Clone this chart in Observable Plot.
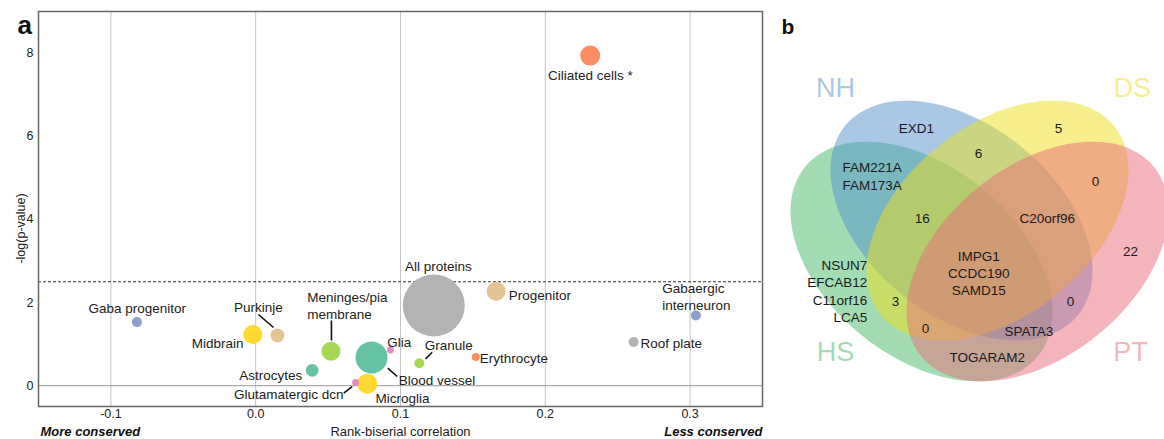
<!DOCTYPE html>
<html><head><meta charset="utf-8">
<script src="https://cdn.jsdelivr.net/npm/d3@7"></script>
<script src="https://cdn.jsdelivr.net/npm/@observablehq/plot@0.6"></script>
<style>
body{margin:0;background:#fff;}
#wrap{display:flex;width:1164px;height:439px;overflow:hidden;}
#wrap svg{display:block;}
</style></head><body><div id="wrap"></div>
<script>
// ---------- Panel a data ----------
const cellTypes = ["Ciliated cells *","Gaba progenitor","Midbrain","Purkinje","Meninges/pia\nmembrane","Astrocytes","Blood vessel","Glia","Glutamatergic dcn","Microglia","All proteins","Progenitor","Granule","Erythrocyte","Roof plate","Gabaergic\ninterneuron"];
const rankBiserial = [0.231, -0.082, -0.002, 0.015, 0.052, 0.039, 0.080, 0.093, 0.069, 0.077, 0.123, 0.166, 0.113, 0.152, 0.261, 0.304];
const negLogP = [7.94, 1.53, 1.23, 1.21, 0.83, 0.37, 0.68, 0.86, 0.08, 0.05, 1.93, 2.27, 0.54, 0.69, 1.05, 1.69];
const nProteins = [100, 25, 90, 49, 90, 40, 256, 12, 12, 100, 961, 90, 25, 16, 25, 25];
const colorGroup = ["B","C","F","G","E","A","A","D","D","F","H","G","E","B","H","C"];
const groups = ["A","B","C","D","E","F","G","H"];
const threshold = 2.5;
const xTicks = [-0.1, 0, 0.1, 0.2, 0.3];
const yTicks = [0, 2, 4, 6, 8];

// label layout (data units) and anchors
const labelX = [0.2312, -0.0818, -0.0084, 0.0019, 0.0356, 0.0321, 0.0988, 0.0908, 0.0606, 0.0827, 0.1262, 0.1748, 0.1168, 0.1548, 0.2657, 0.2807];
const labelY = [7.485, 1.881, 1.039, 1.905, 1.944, 0.270, 0.149, 1.063, -0.187, -0.284, 2.891, 2.194, 0.991, 0.686, 1.046, 2.158];
const labelAnchor = ["middle","middle","end","middle","start","end","start","start","end","start","middle","start","start","start","start","start"];
// leader lines
const leaders = [
  {x1: 0.0019, y1: 1.713, x2: 0.0123, y2: 1.40},
  {x1: 0.0523, y1: 1.568, x2: 0.0523, y2: 1.087},
  {x1: 0.0608, y1: -0.180, x2: 0.0666, y2: -0.019},
  {x1: 0.0912, y1: 0.421, x2: 0.0977, y2: 0.222},
  {x1: 0.1219, y1: 0.806, x2: 0.1173, y2: 0.647}
];

const points = cellTypes.map((c, i) => ({cell: c, x: rankBiserial[i], y: negLogP[i], n: nProteins[i], g: colorGroup[i], lx: labelX[i], ly: labelY[i], anchor: labelAnchor[i]}));

const font = "'Liberation Sans', Arial, Helvetica, sans-serif";

const plotA = Plot.plot({
  width: 770, height: 439,
  marginLeft: 38, marginRight: 8, marginTop: 11, marginBottom: 33,
  style: {fontFamily: font, fontSize: "12.5px", color: "#222", background: "white", overflow: "visible"},
  x: {domain: [-0.15, 0.35], ticks: xTicks, tickFormat: d => d.toFixed(1), tickSize: 0, tickPadding: 3, label: null},
  y: {domain: [-0.5, 9], ticks: yTicks, tickFormat: d => String(d), tickSize: 0, tickPadding: 5, label: null},
  r: {type: "sqrt", domain: [0, 961], range: [0, 31]},
  color: {domain: groups, range: d3.schemeSet2},
  marks: [
    Plot.gridX(xTicks, {stroke: "#c4c4c4", strokeOpacity: 1}),
    Plot.ruleY([0], {stroke: "#999"}),
    Plot.ruleY([threshold], {stroke: "#333", strokeDasharray: "3,2"}),
    Plot.frame({stroke: "#666", strokeWidth: 1.5}),
    Plot.link(leaders, {x1: "x1", y1: "y1", x2: "x2", y2: "y2", stroke: "#111", strokeWidth: 1.6}),
    Plot.dot(points, {x: "x", y: "y", r: "n", fill: "g", stroke: "none"}),
    ...["start","middle","end"].map(a => Plot.text(points.filter(p => p.anchor === a), {x: "lx", y: "ly", text: "cell", textAnchor: a, lineAnchor: "middle", lineHeight: 1.3, fill: "#222", fontSize: 13.5})),
    Plot.text(["-log(p-value)"], {text: d => d, frameAnchor: "left", textAnchor: "middle", lineAnchor: "middle", rotate: -90, dx: -18, dy: 19.5, fontSize: 12.5, fill: "#222"}),
    Plot.text(["Rank-biserial correlation"], {text: d => d, frameAnchor: "bottom", textAnchor: "middle", lineAnchor: "middle", dy: 25, fontSize: 13, fill: "#222"}),
    Plot.text(["More conserved"], {text: d => d, frameAnchor: "bottom-left", textAnchor: "start", lineAnchor: "middle", dx: 2, dy: 25, fontSize: 13, fontWeight: "bold", fontStyle: "italic", fill: "#111"}),
    Plot.text(["Less conserved"], {text: d => d, frameAnchor: "bottom-right", textAnchor: "end", lineAnchor: "middle", dx: 0, dy: 25, fontSize: 13, fontWeight: "bold", fontStyle: "italic", fill: "#111"}),
    Plot.text(["a"], {text: d => d, frameAnchor: "top-left", textAnchor: "start", lineAnchor: "middle", dx: -21, dy: 14, fontSize: 26, fontWeight: "bold", fill: "#111"})
  ]
});

// ---------- Panel b data (Venn) ----------
const vennSets = ["HS", "NH", "DS", "PT"];
const vennCx = [-0.58, -0.18, 0.18, 0.58];
const vennCy = [-0.21, 0.20, 0.20, -0.21];
const vennA = [1.5, 1.5, 1.5, 1.5];
const vennB = [0.95, 0.95, 0.95, 0.95];
const vennAngle = [-39, -39, 39, 39];
const vennColors = ["#47b967", "#5391cd", "#eddf19", "#e96b7b"];
const vennSetLabelX = [-1.44, -1.44, 1.527, 1.51];
const vennSetLabelY = [-1.117, 1.52, 1.52, -1.117];

const regionText = ["EXD1","5","6","FAM221A\nFAM173A","0","16","C20orf96","22","IMPG1\nCCDC190\nSAMD15","NSUN7\nEFCAB12\nC11orf16\nLCA5","3","0","0","SPATA3","TOGARAM2"];
const regionX = [-0.63, 0.79, -0.01, -1.073, 1.16, -0.573, 0.677, 1.51, -0.007, -1.123, -0.84, 0.91, -0.54, 0.493, 0.077];
const regionY = [1.133, 1.133, 0.883, 0.65, 0.60, 0.233, 0.233, -0.10, -0.323, -0.50, -0.60, -0.60, -0.867, -0.90, -1.16];
const regionAnchor = ["middle","middle","middle","middle","middle","middle","middle","middle","middle","end","middle","middle","middle","middle","middle"];

function ellipsePoints(i) {
  const phi = vennAngle[i] * Math.PI / 180, pts = [];
  for (let k = 0; k <= 240; k++) {
    const t = 2 * Math.PI * k / 240;
    const ex = vennA[i] * Math.cos(t), ey = vennB[i] * Math.sin(t);
    pts.push({x: vennCx[i] + ex * Math.cos(phi) - ey * Math.sin(phi), y: vennCy[i] + ex * Math.sin(phi) + ey * Math.cos(phi)});
  }
  return pts;
}
const regions = regionText.map((t, i) => ({t, x: regionX[i], y: regionY[i], anchor: regionAnchor[i]}));
const setLabels = vennSets.map((s, i) => ({s, x: vennSetLabelX[i], y: vennSetLabelY[i], c: vennColors[i]}));

const plotB = Plot.plot({
  width: 394, height: 439, margin: 0,
  style: {fontFamily: font, fontSize: "13px", color: "#222", background: "white"},
  x: {domain: [-2.09, 1.85], axis: null},
  y: {domain: [-1.99, 2.40], axis: null},
  marks: [
    ...vennSets.map((s, i) => Plot.line(ellipsePoints(i), {x: "x", y: "y", fill: vennColors[i], fillOpacity: 0.5, stroke: "none"})),
    ...setLabels.map(d => Plot.text([d], {x: "x", y: "y", text: "s", fill: d.c, fillOpacity: 0.5, fontSize: 27, lineAnchor: "middle"})),
    ...["middle","end"].map(a => Plot.text(regions.filter(r => r.anchor === a), {x: "x", y: "y", text: "t", textAnchor: a, lineAnchor: "middle", lineHeight: 1.27, fontSize: 13.5, fill: "#1a1a1a"})),
    Plot.text(["b"], {text: d => d, frameAnchor: "top-left", textAnchor: "start", lineAnchor: "middle", dx: 11, dy: 26.5, fontSize: 21, fontWeight: "bold", fill: "#111"})
  ]
});

const wrap = document.getElementById("wrap");
wrap.appendChild(plotA);
wrap.appendChild(plotB);
</script>
</body></html>
